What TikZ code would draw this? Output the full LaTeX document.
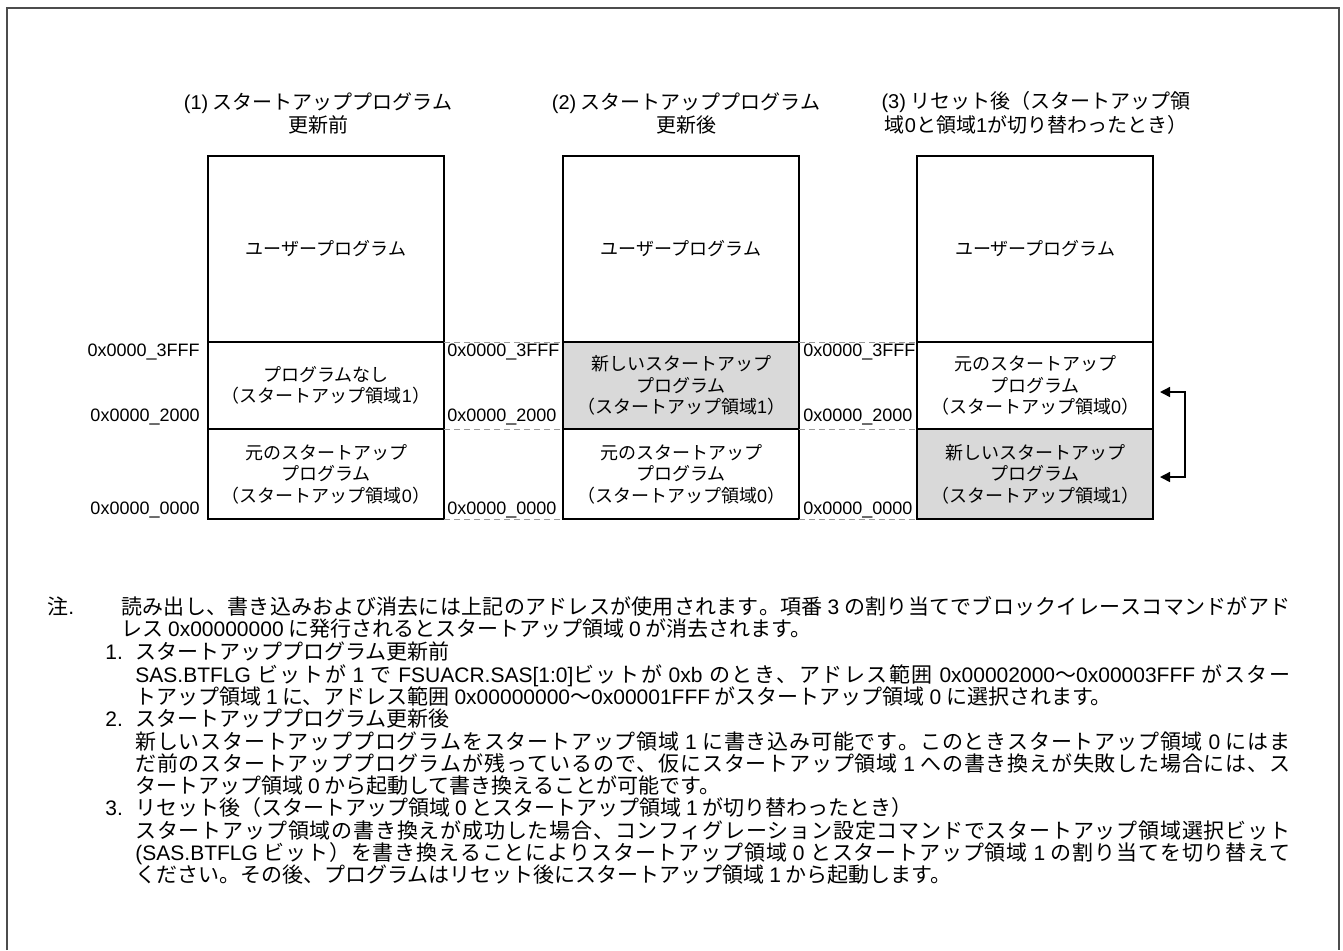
\documentclass[tikz,border=0pt]{standalone}
\usepackage{fontspec}
\setmainfont{Noto Sans CJK JP}
\newfontfamily\latinfont{Liberation Sans}
\newcommand{\ltn}[1]{{\latinfont #1}}
% stretchable glue between Japanese characters, for justified note lines
\ifdefined\newXeTeXintercharclass \newXeTeXintercharclass\jaclass \else \chardef\jaclass=7 \fi
\count255="3000
\loop \XeTeXcharclass\count255=\jaclass \ifnum\count255<"30FF \advance\count255 by 1 \repeat
\count255="4E00
\loop \XeTeXcharclass\count255=\jaclass \ifnum\count255<"9FFF \advance\count255 by 1 \repeat
\count255="FF01
\loop \XeTeXcharclass\count255=\jaclass \ifnum\count255<"FF5E \advance\count255 by 1 \repeat
\XeTeXinterchartoks\jaclass\jaclass={\hskip0pt plus 1pt\relax}
\newcommand{\jline}[2]{\makebox[#1][s]{\XeTeXinterchartokenstate=1 #2}}
\usetikzlibrary{arrows.meta,positioning,calc}

\begin{document}
\begin{tikzpicture}[x=0.5pt,y=-0.5pt,>={Triangle[length=5pt,width=5pt]},
  mem/.style={draw,line width=1pt,outer sep=0pt,inner sep=0pt,minimum width=118pt,align=center,font=\fontsize{9}{10.75}\selectfont},
  usr/.style={mem,minimum height=93pt},
  regone/.style={mem,minimum height=43.5pt},
  regzero/.style={mem,minimum height=45pt},
  newprg/.style={fill=black!15},
  adr/.style={inner sep=0pt,font=\latinfont\fontsize{9}{9}\selectfont},
  ttl/.style={align=center,inner sep=0pt,font=\fontsize{10}{10}\selectfont},
  gap/.style={black!40,line width=0.5pt,dash pattern=on 3pt off 2pt},
  note/.style={anchor=base west,inner sep=0pt,font=\fontsize{10.5}{10.5}\selectfont}]
\useasboundingbox (0,0) rectangle (1343,950);
% frame
\draw[line width=1pt,black!70] (7,950) -- (7,8) -- (1339,8) -- (1339,950);

% titles
\node[ttl] (t1) at (318,113) {\ltn{(1)} スタートアッププログラム\\更新前};
\node[ttl] (t2) at (686,113) {\ltn{(2)} スタートアッププログラム\\更新後};
\node[ttl] (t3) at (1036,113) {\ltn{(3)} リセット後（スタートアップ領\\域\ltn{0}と領域\ltn{1}が切り替わったとき）};

% (1) before update
\node[usr] (u1) at (326,249) {ユーザープログラム};
\node[regone] (a1) at (326,385.5) {プログラムなし\\（スタートアップ領域\ltn{1}）};
\node[regzero] (b1) at (326,474) {元のスタートアップ\\プログラム\\（スタートアップ領域\ltn{0}）};

% (2) after update
\node[usr] (u2) at (681,249) {ユーザープログラム};
\node[regone,newprg] (a2) at (681,385.5) {新しいスタートアップ\\プログラム\\（スタートアップ領域\ltn{1}）};
\node[regzero] (b2) at (681,474) {元のスタートアップ\\プログラム\\（スタートアップ領域\ltn{0}）};

% (3) after reset
\node[usr] (u3) at (1035,249) {ユーザープログラム};
\node[regone] (a3) at (1035,385.5) {元のスタートアップ\\プログラム\\（スタートアップ領域\ltn{0}）};
\node[regzero,newprg] (b3) at (1035,474) {新しいスタートアップ\\プログラム\\（スタートアップ領域\ltn{1}）};

% addresses
\node[adr,anchor=east] (h1) at (200,352) {0x0000\_3FFF};
\node[adr,anchor=east] (m1) at (200,417) {0x0000\_2000};
\node[adr,anchor=east] (l1) at (200,510) {0x0000\_0000};
\node[adr,anchor=west] (h2) at (447,352) {0x0000\_3FFF};
\node[adr,anchor=west] (m2) at (447,417) {0x0000\_2000};
\node[adr,anchor=west] (l2) at (447,510) {0x0000\_0000};
\node[adr,anchor=west] (h3) at (803,352) {0x0000\_3FFF};
\node[adr,anchor=west] (m3) at (803,417) {0x0000\_2000};
\node[adr,anchor=west] (l3) at (803,510) {0x0000\_0000};

\draw[gap] (a1.north east) -- (a2.north west);
\draw[gap] (b1.north east) -- (b2.north west);
\draw[gap] (b1.south east) -- (b2.south west);
\draw[gap] (a2.north east) -- (a3.north west);
\draw[gap] (b2.north east) -- (b3.north west);
\draw[gap] (b2.south east) -- (b3.south west);

% swap arrow
\draw[<->,line width=0.75pt] ([shift={(3.5pt,-3.25pt)}]a3.east) -- ++(12.5pt,0) |- ([shift={(3.5pt,-1.5pt)}]b3.east);

% notes
\node[note] (n0) at (47,614) {注\ltn{.}};
\node[note] (n1) at (121,614) {\jline{584.5pt}{読み出し、書き込みおよび消去には上記のアドレスが使用されます。項番 \ltn{3} の割り当てでブロックイレースコマンドがアド}};
\node[note] (n2) at (121,636) {レス \ltn{0x00000000} に発行されるとスタートアップ領域 \ltn{0} が消去されます。};
\node[note] (k1) at (105,659) {\ltn{1.}};
\node[note] (n3) at (135,659) {スタートアッププログラム更新前};
\node[note] (n4) at (135,682) {\jline{577.5pt}{\ltn{SAS.BTFLG} ビットが \ltn{1} で \ltn{FSUACR.SAS[1:0]}ビットが \ltn{0xb} のとき、アドレス範囲 \ltn{0x00002000}～\ltn{0x00003FFF} がスター}};
\node[note] (n5) at (135,704) {トアップ領域 \ltn{1} に、アドレス範囲 \ltn{0x00000000}～\ltn{0x00001FFF} がスタートアップ領域 \ltn{0} に選択されます。};
\node[note] (k2) at (105,726) {\ltn{2.}};
\node[note] (n6) at (135,726) {スタートアッププログラム更新後};
\node[note] (n7) at (135,749) {\jline{577.5pt}{新しいスタートアッププログラムをスタートアップ領域 \ltn{1} に書き込み可能です。このときスタートアップ領域 \ltn{0} にはま}};
\node[note] (n8) at (135,771) {\jline{577.5pt}{だ前のスタートアッププログラムが残っているので、仮にスタートアップ領域 \ltn{1} への書き換えが失敗した場合には、ス}};
\node[note] (n9) at (135,793) {タートアップ領域 \ltn{0} から起動して書き換えることが可能です。};
\node[note] (k3) at (105,815) {\ltn{3.}};
\node[note] (n10) at (135,815) {リセット後（スタートアップ領域 \ltn{0} とスタートアップ領域 \ltn{1} が切り替わったとき）};
\node[note] (n11) at (135,838) {\jline{577.5pt}{スタートアップ領域の書き換えが成功した場合、コンフィグレーション設定コマンドでスタートアップ領域選択ビット}};
\node[note] (n12) at (135,860) {\jline{577.5pt}{\ltn{(SAS.BTFLG} ビット）を書き換えることによりスタートアップ領域 \ltn{0} とスタートアップ領域 \ltn{1} の割り当てを切り替えて}};
\node[note] (n13) at (135,882) {ください。その後、プログラムはリセット後にスタートアップ領域 \ltn{1} から起動します。};
\end{tikzpicture}
\end{document}
